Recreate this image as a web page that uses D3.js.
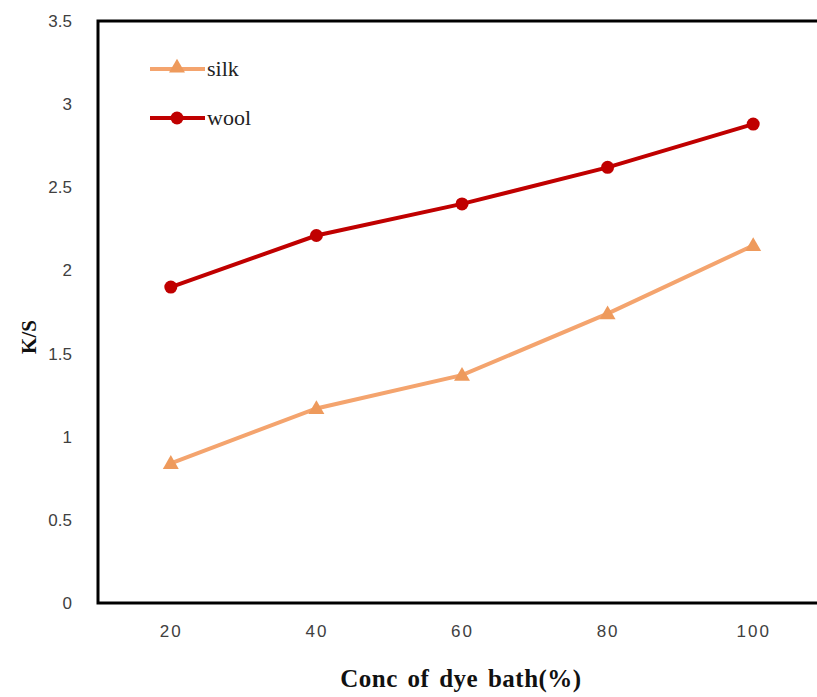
<!DOCTYPE html>
<html>
  <head>
    <meta charset="utf-8" />
    <title>K/S vs dye bath</title>
    <script src="https://d3js.org/d3.v7.min.js"></script>
    <style>
      body { margin: 0; background: #fff; }
      .tick text { font-family: "Liberation Sans", Arial, sans-serif; fill: #404040; }
    </style>
  </head>
  <body>
    <svg width="817" height="697" id="chart"></svg>
    <script>
      // data
      var concs = ["20", "40", "60", "80", "100"];
      var silk = [0.84, 1.17, 1.37, 1.74, 2.15];
      var wool = [1.90, 2.21, 2.40, 2.62, 2.88];
      var yTicks = [0, 0.5, 1, 1.5, 2, 2.5, 3, 3.5];

      var svg = d3.select("#chart");
      // note: "top" is taken by window.top, so use other names
      var plotL = 98, plotR = 826, plotT = 21, plotB = 603;

      var x = d3.scalePoint().domain(concs).range([plotL, plotR]).padding(0.5);
      var y = d3.scaleLinear().domain([0, 3.5]).range([plotB, plotT]);

      // frame
      svg.append("rect")
        .attr("x", plotL).attr("y", plotT)
        .attr("width", plotR - plotL).attr("height", plotB - plotT)
        .attr("fill", "none").attr("stroke", "#000").attr("stroke-width", 3);

      // y axis labels
      var yAxis = svg.append("g")
        .attr("transform", "translate(" + plotL + ",0)")
        .call(d3.axisLeft(y).tickValues(yTicks).tickSize(0).tickPadding(26)
          .tickFormat(function(d){ return String(d); }));
      yAxis.select(".domain").remove();
      yAxis.selectAll("text").style("font-size", "17px");

      // x axis labels
      var xAxis = svg.append("g")
        .attr("transform", "translate(0," + plotB + ")")
        .call(d3.axisBottom(x).tickSize(0).tickPadding(22));
      xAxis.select(".domain").remove();
      xAxis.selectAll("text").style("font-size", "17px").style("letter-spacing", "2px");

      // axis titles
      svg.append("text")
        .attr("x", 461).attr("y", 687)
        .attr("text-anchor", "middle")
        .style("font-family", "'Liberation Serif', 'DejaVu Serif', serif")
        .style("font-weight", "bold").style("font-size", "25px")
        .style("letter-spacing", "0.5px").style("word-spacing", "3px")
        .attr("fill", "#111")
        .text("Conc of dye bath(%)");

      svg.append("text")
        .attr("transform", "translate(36,337) rotate(-90)")
        .attr("text-anchor", "middle")
        .style("font-family", "'Liberation Serif', 'DejaVu Serif', serif")
        .style("font-weight", "bold").style("font-size", "21px")
        .attr("fill", "#111")
        .text("K/S");

      var line = d3.line()
        .x(function(d, i){ return x(concs[i]); })
        .y(function(d){ return y(d); });

      var silkColor = "#F4A46E", woolColor = "#C00000";
      var tri = d3.symbol().type(d3.symbolTriangle).size(110);

      // silk
      svg.append("path").datum(silk)
        .attr("d", line).attr("fill", "none")
        .attr("stroke", silkColor).attr("stroke-width", 4);
      svg.selectAll(".silkpt").data(silk).enter().append("path")
        .attr("class", "silkpt")
        .attr("d", tri)
        .attr("transform", function(d, i){ return "translate(" + x(concs[i]) + "," + (y(d) + 1) + ")"; })
        .attr("fill", "#EE9A5C");

      // wool
      svg.append("path").datum(wool)
        .attr("d", line).attr("fill", "none")
        .attr("stroke", woolColor).attr("stroke-width", 4);
      svg.selectAll(".woolpt").data(wool).enter().append("circle")
        .attr("class", "woolpt")
        .attr("cx", function(d, i){ return x(concs[i]); })
        .attr("cy", function(d){ return y(d); })
        .attr("r", 6.5)
        .attr("fill", woolColor);

      // legend
      var legend = [
        {name: "silk", color: silkColor, y: 69},
        {name: "wool", color: woolColor, y: 118}
      ];
      legend.forEach(function(l){
        svg.append("line")
          .attr("x1", 150).attr("x2", 205).attr("y1", l.y).attr("y2", l.y)
          .attr("stroke", l.color).attr("stroke-width", 4);
        if (l.name === "silk") {
          svg.append("path").attr("d", tri)
            .attr("transform", "translate(177," + (l.y - 1) + ")")
            .attr("fill", "#EE9A5C");
        } else {
          svg.append("circle").attr("cx", 177).attr("cy", l.y).attr("r", 6.5)
            .attr("fill", l.color);
        }
        svg.append("text")
          .attr("x", 207).attr("y", l.y + 7)
          .style("font-family", "'Liberation Serif', 'DejaVu Serif', serif")
          .style("font-size", "22px").attr("fill", "#222")
          .text(l.name);
      });
    </script>
  </body>
</html>
